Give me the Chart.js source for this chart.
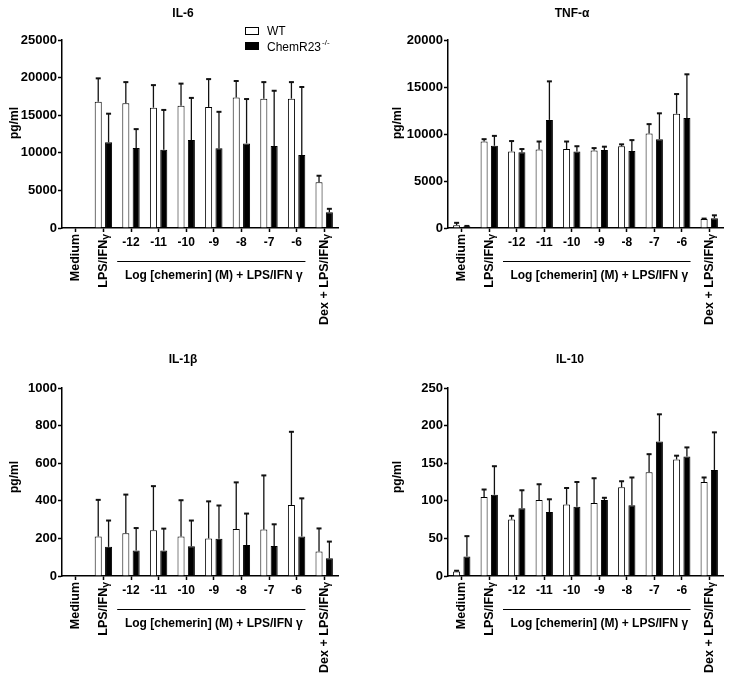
<!DOCTYPE html>
<html>
<head>
<meta charset="utf-8">
<script src="https://cdn.jsdelivr.net/npm/chart.js@4.4.1/dist/chart.umd.min.js"></script>
<style>
  body { margin: 0; background: #fff; }
  #wrap { position: relative; width: 729px; height: 679px; }
  canvas { position: absolute; }
</style>
</head>
<body>
<div id="wrap">
  <canvas id="il6" width="365" height="340" style="left:0;top:0"></canvas>
  <canvas id="tnf" width="364" height="340" style="left:365px;top:0"></canvas>
  <canvas id="il1b" width="365" height="339" style="left:0;top:340px"></canvas>
  <canvas id="il10" width="364" height="339" style="left:365px;top:340px"></canvas>
</div>
<script>
// categories shared by all four panels
const categories = ["Medium", "LPS/IFNγ", "-12", "-11", "-10", "-9", "-8", "-7", "-6", "Dex + LPS/IFNγ"];
const groupLabel = "Log [chemerin] (M) + LPS/IFN γ";

// IL-6 (pg/ml), mean and SD
const il6WT   = [60, 16800, 16600, 16000, 16250, 16100, 17350, 17200, 17200, 6100];
const il6WTsd = [0, 3100, 2800, 3000, 2950, 3700, 2200, 2200, 2200, 850];
const il6KO   = [0, 11400, 10650, 10400, 11700, 10600, 11250, 10900, 9700, 2100];
const il6KOsd = [0, 3800, 2500, 5300, 5600, 4850, 5900, 7350, 9050, 450];
const il6Ticks = [0, 5000, 10000, 15000, 20000, 25000];

// TNF-alpha
const tnfWT   = [300, 9200, 8150, 8350, 8400, 8250, 8700, 10050, 12150, 950];
const tnfWTsd = [250, 250, 1100, 850, 800, 250, 200, 1000, 2100, 50];
const tnfKO   = [180, 8750, 8050, 11500, 8150, 8300, 8200, 9450, 11700, 1050];
const tnfKOsd = [40, 1050, 350, 4100, 550, 350, 1150, 2750, 4650, 300];
const tnfTicks = [0, 5000, 10000, 15000, 20000];

// IL-1beta
const il1bWT   = [2, 210, 228, 243, 210, 200, 250, 248, 378, 130];
const il1bWTsd = [0, 195, 205, 235, 193, 197, 248, 287, 389, 123];
const il1bKO   = [3, 155, 135, 135, 158, 198, 165, 160, 210, 94];
const il1bKOsd = [0, 140, 120, 117, 137, 177, 167, 115, 203, 89];
const il1bTicks = [0, 200, 400, 600, 800, 1000];

// IL-10
const il10WT   = [6, 105, 75, 101, 95, 97, 118, 138, 155, 125];
const il10WTsd = [1, 10, 5, 21, 22, 33, 8, 24, 5, 6];
const il10KO   = [26, 108, 90, 85, 92, 101, 94, 179, 159, 141];
const il10KOsd = [27, 38, 24, 17, 33, 3, 37, 36, 12, 50];
const il10Ticks = [0, 50, 100, 150, 200, 250];

const FONT = "'Liberation Sans', Arial, Helvetica, sans-serif";

// upper error bars drawn from the bar elements and the y scale
const errorBars = {
  id: "errorBars",
  afterDatasetsDraw(chart) {
    const ctx = chart.ctx;
    const y = chart.scales.y;
    ctx.save();
    ctx.strokeStyle = "#111";
    chart.data.datasets.forEach((ds, d) => {
      const meta = chart.getDatasetMeta(d);
      meta.data.forEach((bar, i) => {
        const top = y.getPixelForValue(ds.data[i] + ds.sd[i]);
        if (ds.sd[i] <= 0) return;
        ctx.lineWidth = 1.3;
        ctx.beginPath();
        ctx.moveTo(bar.x, bar.y);
        ctx.lineTo(bar.x, top);
        ctx.stroke();
        ctx.lineWidth = 2;
        ctx.beginPath();
        ctx.moveTo(bar.x - 2.5, top);
        ctx.lineTo(bar.x + 2.5, top);
        ctx.stroke();
      });
    });
    ctx.restore();
  }
};

function drawRotated(ctx, x, y, label) {
  ctx.save();
  ctx.translate(x, y);
  ctx.rotate(-Math.PI / 2);
  ctx.textAlign = "right";
  ctx.textBaseline = "middle";
  if (label.endsWith("γ")) {
    ctx.font = "bold 10.5px " + FONT;
    const gw = ctx.measureText("γ").width;
    ctx.fillText("γ", 0, 2.5);
    ctx.font = "bold 12.5px " + FONT;
    ctx.fillText(label.slice(0, -1), -gw, 0);
  } else {
    ctx.font = "bold 12.5px " + FONT;
    ctx.fillText(label, 0, 0);
  }
  ctx.restore();
}

function makePanel(id, p) {
  const canvas = document.getElementById(id);
  const W = canvas.width, H = canvas.height;

  const panelText = {
    id: "panelText",
    afterDraw(chart) {
      const ctx = chart.ctx;
      const xs = chart.scales.x;
      const bottom = chart.chartArea.bottom;
      ctx.save();
      ctx.fillStyle = "#000";
      ctx.strokeStyle = "#000";

      // title
      ctx.font = "bold 12px " + FONT;
      ctx.textAlign = "center";
      ctx.textBaseline = "middle";
      ctx.fillText(p.title, p.titleX, p.titleY);

      // y axis title
      ctx.save();
      ctx.translate(p.ylabelX, p.ylabelY);
      ctx.rotate(-Math.PI / 2);
      ctx.fillText("pg/ml", 0, 0);
      ctx.restore();

      // category labels
      categories.forEach((c, i) => {
        const x = xs.getPixelForValue(i);
        if (/^-\d/.test(c)) {
          ctx.font = "bold 12px " + FONT;
          ctx.textAlign = "center";
          ctx.textBaseline = "middle";
          ctx.fillText(c, x, bottom + 15);
        } else {
          drawRotated(ctx, x, bottom + 6, c);
        }
      });

      // bracket line and label for the chemerin doses
      const step = xs.getPixelForValue(1) - xs.getPixelForValue(0);
      const x1 = xs.getPixelForValue(2) - step * 0.5;
      const x2 = xs.getPixelForValue(8) + step * 0.32;
      ctx.lineWidth = 1;
      ctx.beginPath();
      ctx.moveTo(x1, bottom + 33.5);
      ctx.lineTo(x2, bottom + 33.5);
      ctx.stroke();
      ctx.font = "bold 12px " + FONT;
      ctx.textAlign = "center";
      ctx.textBaseline = "middle";
      ctx.fillText(groupLabel, xs.getPixelForValue(5), bottom + 48);

      // legend (first panel only)
      if (p.legend) {
        ctx.lineWidth = 1;
        ctx.fillStyle = "#fff";
        ctx.fillRect(245.5, 27.5, 13, 7);
        ctx.strokeRect(245.5, 27.5, 13, 7);
        ctx.fillStyle = "#000";
        ctx.fillRect(245, 42, 14, 8);
        ctx.font = "12px " + FONT;
        ctx.textAlign = "left";
        ctx.textBaseline = "middle";
        ctx.fillText("WT", 267, 31.5);
        ctx.fillText("ChemR23", 267, 47.5);
        const w = ctx.measureText("ChemR23").width;
        ctx.font = "8px " + FONT;
        ctx.fillText("-/-", 267 + w + 1, 43);
      }
      ctx.restore();
    }
  };

  new Chart(canvas, {
    type: "bar",
    data: {
      labels: categories,
      datasets: [
        { label: "WT", data: p.wt, sd: p.wtSd, backgroundColor: "#fff", borderColor: "#000", borderWidth: 1 },
        { label: "ChemR23-/-", data: p.ko, sd: p.koSd, backgroundColor: "#000", borderColor: "#000", borderWidth: 1 }
      ]
    },
    options: {
      responsive: false,
      animation: false,
      devicePixelRatio: 1,
      layout: { padding: { left: 0, top: p.top, right: W - p.right, bottom: 0 } },
      datasets: { bar: { categoryPercentage: 0.75, barPercentage: 0.68 } },
      plugins: { legend: { display: false }, tooltip: { enabled: false }, title: { display: false } },
      scales: {
        x: {
          ticks: { display: false },
          grid: { offset: false, drawOnChartArea: false, drawTicks: true, tickLength: 4, tickWidth: 1.5, tickColor: "#000" },
          border: { display: true, color: "#000", width: 1.5 },
          afterFit(s) { s.height = H - p.bottom; }
        },
        y: {
          min: 0,
          max: p.ticks[p.ticks.length - 1],
          ticks: {
            stepSize: p.ticks[1] - p.ticks[0],
            color: "#000",
            padding: 1,
            font: { family: FONT, size: 13, weight: "bold" },
            callback: (v) => String(v)
          },
          grid: { drawOnChartArea: false, drawTicks: true, tickLength: 4, tickWidth: 1.5, tickColor: "#000" },
          border: { display: true, color: "#000", width: 1.5 },
          afterFit(s) { s.width = p.left; }
        }
      }
    },
    plugins: [errorBars, panelText]
  });
}

makePanel("il6", {
  wt: il6WT, wtSd: il6WTsd, ko: il6KO, koSd: il6KOsd, ticks: il6Ticks,
  left: 62, right: 338, top: 40, bottom: 228,
  title: "IL-6", titleX: 183, titleY: 14, ylabelX: 15, ylabelY: 123, legend: true
});
makePanel("tnf", {
  wt: tnfWT, wtSd: tnfWTsd, ko: tnfKO, koSd: tnfKOsd, ticks: tnfTicks,
  left: 83, right: 358, top: 40, bottom: 228,
  title: "TNF-α", titleX: 207, titleY: 14, ylabelX: 33, ylabelY: 123, legend: false
});
makePanel("il1b", {
  wt: il1bWT, wtSd: il1bWTsd, ko: il1bKO, koSd: il1bKOsd, ticks: il1bTicks,
  left: 62, right: 338, top: 48, bottom: 236,
  title: "IL-1β", titleX: 183, titleY: 20, ylabelX: 15, ylabelY: 137, legend: false
});
makePanel("il10", {
  wt: il10WT, wtSd: il10WTsd, ko: il10KO, koSd: il10KOsd, ticks: il10Ticks,
  left: 83, right: 358, top: 48, bottom: 236,
  title: "IL-10", titleX: 205, titleY: 20, ylabelX: 33, ylabelY: 137, legend: false
});
</script>
</body>
</html>
